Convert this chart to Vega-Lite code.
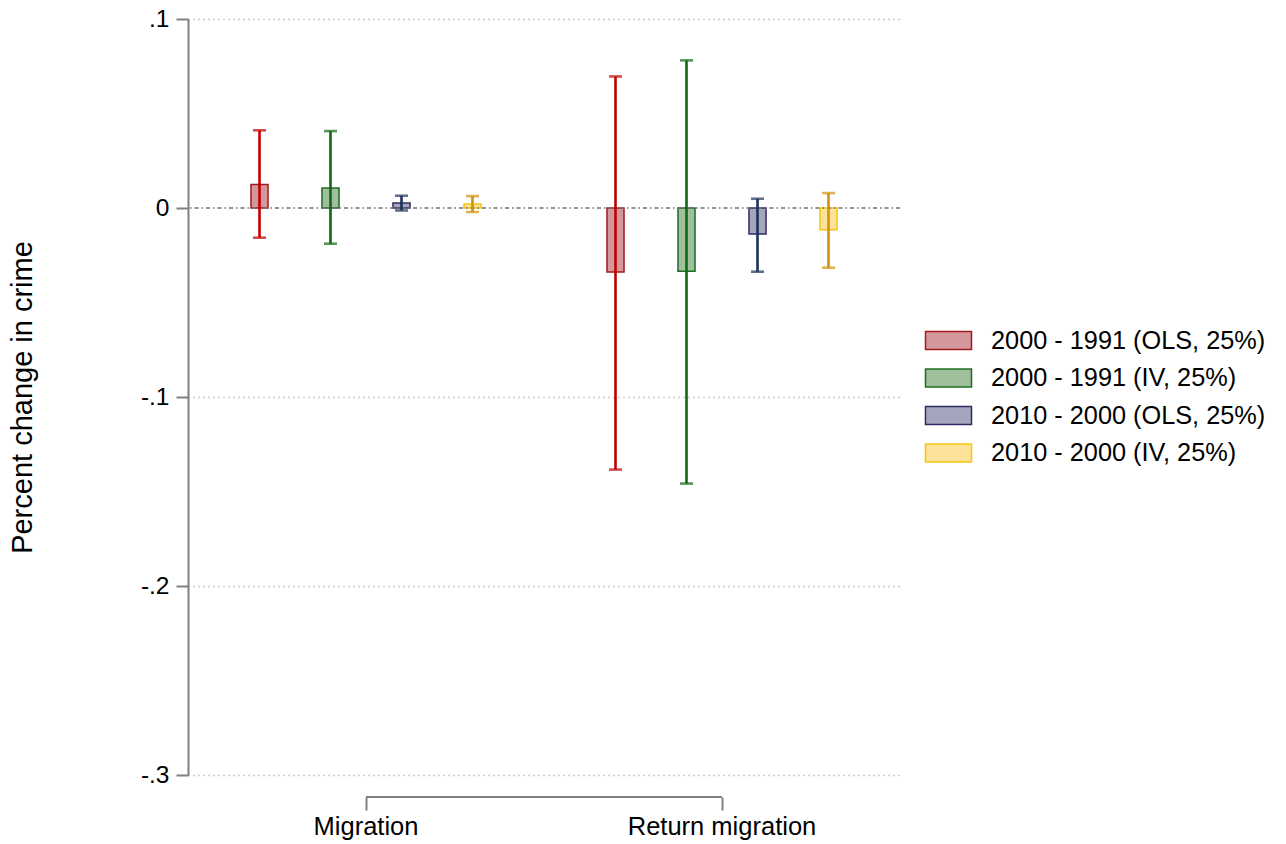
{
  "$schema": "https://vega.github.io/schema/vega-lite/v6.json",
  "width": 712,
  "height": 756,
  "autosize": {"type": "none"},
  "padding": {"left": 188, "top": 19, "right": 386, "bottom": 69},
  "background": "white",
  "config": {"view": {"stroke": null}, "font": "Liberation Sans"},
  "data": {
    "values": [
      {"group": "Migration", "series": "2000 - 1991 (OLS, 25%)", "est": 0.0125, "lo": -0.0157, "hi": 0.0411},
      {"group": "Migration", "series": "2000 - 1991 (IV, 25%)", "est": 0.0106, "lo": -0.0189, "hi": 0.0407},
      {"group": "Migration", "series": "2010 - 2000 (OLS, 25%)", "est": 0.0026, "lo": -0.0013, "hi": 0.0065},
      {"group": "Migration", "series": "2010 - 2000 (IV, 25%)", "est": 0.0021, "lo": -0.0021, "hi": 0.0063},
      {"group": "Return migration", "series": "2000 - 1991 (OLS, 25%)", "est": -0.0339, "lo": -0.1384, "hi": 0.0696},
      {"group": "Return migration", "series": "2000 - 1991 (IV, 25%)", "est": -0.0335, "lo": -0.1458, "hi": 0.0781},
      {"group": "Return migration", "series": "2010 - 2000 (OLS, 25%)", "est": -0.0138, "lo": -0.0337, "hi": 0.0049},
      {"group": "Return migration", "series": "2010 - 2000 (IV, 25%)", "est": -0.0115, "lo": -0.0316, "hi": 0.0079}
    ]
  },
  "encoding": {
    "x": {
      "field": "group", "type": "nominal", "sort": ["Migration", "Return migration"],
      "scale": {"paddingInner": 0, "paddingOuter": 0},
      "axis": {"title": null, "domain": false, "offset": 22, "tickSize": 13, "tickColor": "#808080", "tickWidth": 2, "labelFontSize": 25.5, "labelColor": "black", "labelPadding": 4, "labelAngle": 0, "labelLimit": 400, "grid": false}
    },
    "xOffset": {
      "field": "series", "type": "nominal",
      "sort": ["2000 - 1991 (OLS, 25%)", "2000 - 1991 (IV, 25%)", "2010 - 2000 (OLS, 25%)", "2010 - 2000 (IV, 25%)"],
      "scale": {"paddingInner": 0.76, "paddingOuter": 0.887}
    }
  },
  "layer": [
    {
      "mark": {"type": "bar", "strokeWidth": 1.5, "opacity": 1},
      "encoding": {
        "y": {
          "field": "est", "type": "quantitative",
          "scale": {"domain": [-0.3, 0.1], "nice": false, "zero": false},
          "title": "Percent change in crime",
          "axis": {
            "values": [-0.3, -0.2, -0.1, 0, 0.1],
            "labelExpr": "datum.value == 0 ? '0' : (datum.value < 0 ? '-' : '') + '.' + format(abs(datum.value) * 10, '.0f')",
            "labelFontSize": 24.5, "labelColor": "black", "labelPadding": 7,
            "tickSize": 12, "tickColor": "#808080", "tickWidth": 2,
            "domainColor": "#808080", "domainWidth": 2,
            "grid": true, "gridColor": "#9a9a9a", "gridDash": [1, 4], "gridWidth": 1.5,
            "gridOpacity": {"condition": {"test": "datum.value === 0", "value": 0}, "value": 1},
            "titleFontSize": 29, "titleFontWeight": "normal", "titleColor": "black", "titlePadding": 103
          }
        },
        "y2": {"datum": 0},
        "fill": {
          "field": "series", "type": "nominal",
          "scale": {"domain": ["2000 - 1991 (OLS, 25%)", "2000 - 1991 (IV, 25%)", "2010 - 2000 (OLS, 25%)", "2010 - 2000 (IV, 25%)"], "range": ["#d4979b", "#9fbf9d", "#a5a5bd", "#fde39a"]},
          "legend": {"title": null, "orient": "none", "legendX": 741, "legendY": 302, "symbolType": "M-1.227,-0.48H1.227V0.48H-1.227Z", "symbolSize": 1406, "symbolStrokeWidth": 1.5, "labelFontSize": 25.3, "labelColor": "black", "labelOffset": 23, "rowPadding": 4.5, "padding": 0, "labelLimit": 400}
        },
        "stroke": {
          "field": "series", "type": "nominal",
          "scale": {"domain": ["2000 - 1991 (OLS, 25%)", "2000 - 1991 (IV, 25%)", "2010 - 2000 (OLS, 25%)", "2010 - 2000 (IV, 25%)"], "range": ["#a31a1e", "#1f6b21", "#2d2d63", "#f6c40f"]},
          "legend": {"title": null, "orient": "none", "legendX": 741, "legendY": 302, "symbolType": "M-1.227,-0.48H1.227V0.48H-1.227Z", "symbolSize": 1406, "symbolStrokeWidth": 1.5, "labelFontSize": 25.3, "labelColor": "black", "labelOffset": 23, "rowPadding": 4.5, "padding": 0, "labelLimit": 400}
        }
      }
    },
    {
      "data": {"values": [{}]},
      "mark": {"type": "rule", "color": "#707070", "strokeWidth": 1.5, "strokeDash": [4, 3, 1.5, 3]},
      "encoding": {"y": {"datum": 0}, "x": null, "xOffset": null}
    },
    {
      "mark": {"type": "rule", "strokeWidth": 2.6},
      "encoding": {
        "y": {"field": "lo", "type": "quantitative"},
        "y2": {"field": "hi"},
        "color": {
          "field": "series", "type": "nominal", "legend": null,
          "scale": {"domain": ["2000 - 1991 (OLS, 25%)", "2000 - 1991 (IV, 25%)", "2010 - 2000 (OLS, 25%)", "2010 - 2000 (IV, 25%)"], "range": ["#c00000", "#106810", "#1c3356", "#d4900a"]}
        }
      }
    },
    {
      "mark": {"type": "tick", "orient": "horizontal", "size": 13, "thickness": 2.6},
      "encoding": {
        "y": {"field": "hi", "type": "quantitative"},
        "color": {"field": "series", "type": "nominal", "legend": null}
      }
    },
    {
      "mark": {"type": "tick", "orient": "horizontal", "size": 13, "thickness": 2.6},
      "encoding": {
        "y": {"field": "lo", "type": "quantitative"},
        "color": {"field": "series", "type": "nominal", "legend": null}
      }
    },
    {
      "data": {"values": [{}]},
      "mark": {"type": "rule", "color": "#808080", "strokeWidth": 2},
      "encoding": {
        "x": {"datum": "Migration"},
        "x2": {"datum": "Return migration"},
        "xOffset": null,
        "y": {"datum": -0.31164}
      }
    }
  ]
}
